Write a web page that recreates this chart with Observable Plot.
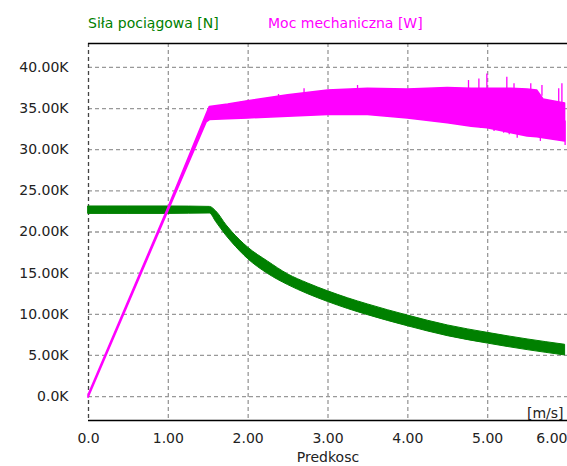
<!DOCTYPE html>
<html><head><meta charset="utf-8">
<script src="https://cdn.jsdelivr.net/npm/d3@7"></script>
<script src="https://cdn.jsdelivr.net/npm/@observablehq/plot@0.6"></script>
<style>
html,body{margin:0;padding:0;background:#fff;overflow:hidden;}
#wrap{width:567px;height:466px;position:relative;font-family:"DejaVu Sans",sans-serif;}
#legend{position:relative;height:36px;font-size:14px;}
#legend span{position:absolute;top:15px;white-space:nowrap;line-height:16px;}
</style></head><body>
<div id="wrap">
<div id="legend"><span id="l1"></span><span id="l2"></span></div>
<div id="chart"></div>
</div>
<script>
// Series names
const seriesNames = ["Siła pociągowa [N]", "Moc mechaniczna [W]"];
const seriesColors = ["#008000", "#ff00ff"];

// Traction force band (N) vs speed (m/s)
const forceSpeed = [0, 0.5, 1.0, 1.52, 1.6, 1.73, 1.8, 2.0, 2.25, 2.5, 2.75, 3.0, 3.25, 3.5, 3.75, 4.0, 4.5, 5.0, 5.5, 5.97];
const forceLow  = [22200, 22200, 22200, 22250, 21200, 19500, 18700, 16700, 14900, 13550, 12450, 11500, 10650, 9900, 9200, 8550, 7350, 6450, 5650, 5000];
const forceHigh = [23100, 23100, 23100, 23050, 22500, 20800, 20000, 18100, 16400, 14850, 13750, 12800, 11950, 11200, 10500, 9850, 8650, 7750, 6950, 6300];

// Mechanical power band (W) vs speed (m/s)
const powerSpeed = [0, 1.0, 1.48, 1.52, 1.75, 2.0, 2.5, 3.0, 3.5, 4.0, 4.5, 4.8, 5.0, 5.3, 5.5, 5.62, 5.7, 5.97];
const powerLow  = [-150, 22500, 33300, 33600, 33700, 33800, 34000, 34200, 34200, 33800, 33200, 32800, 32600, 32000, 31600, 31500, 31400, 31000];
const powerHigh = [150, 22900, 34300, 35200, 35500, 35900, 36600, 37200, 37400, 37300, 37500, 37400, 37400, 37400, 37300, 37200, 36100, 35600];

// Visible spikes of the power signal
const spikeSpeed = [2.38, 2.70, 3.37, 4.76, 4.89, 4.99, 5.24, 5.33, 5.54, 5.68, 5.89, 5.93, 4.91, 5.08, 5.20, 5.27, 5.37, 5.66, 5.97];
const spikeLow   = [36000, 36500, 36800, 36800, 36800, 36800, 36800, 36800, 36800, 36500, 35500, 35500, 32600, 32200, 32000, 31800, 31400, 31000, 30500];
const spikeHigh  = [36700, 37400, 37800, 38400, 38600, 39200, 38800, 38000, 38000, 37800, 37400, 38000, 34000, 34000, 34000, 34000, 34000, 34000, 33500];

// Axes
const xTicks = [0, 1, 2, 3, 4, 5, 6];
const yTicks = [0, 5000, 10000, 15000, 20000, 25000, 30000, 35000, 40000];
const xDomain = [0, 6];
const yDomain = [-2900, 42900];
const xTitle = "Predkosc";
const xUnit = "[m/s]";

document.getElementById("l1").textContent = seriesNames[0];
document.getElementById("l1").style.cssText = "left:88px;color:" + seriesColors[0];
document.getElementById("l2").textContent = seriesNames[1];
document.getElementById("l2").style.cssText = "left:268px;color:" + seriesColors[1];

const force = forceSpeed.map((v, i) => ({v, lo: forceLow[i], hi: forceHigh[i]}));
const power = powerSpeed.map((v, i) => ({v, lo: powerLow[i], hi: powerHigh[i]}));
const spikes = spikeSpeed.map((v, i) => ({v, lo: spikeLow[i], hi: spikeHigh[i]}));

const grid = {stroke: "#999", strokeOpacity: 1, strokeWidth: 1.3, strokeDasharray: "4,3"};
const xfmt = d => d === 0 ? "0.0" : d.toFixed(2);
const yfmt = d => d === 0 ? "0.0K" : (d / 1000).toFixed(2) + "K";

const chart = Plot.plot({
  width: 567, height: 430,
  marginLeft: 88, marginRight: 0, marginTop: 7, marginBottom: 46,
  style: {fontFamily: "DejaVu Sans", fontSize: "14px", color: "#222", background: "white", overflow: "visible"},
  x: {domain: xDomain, label: null},
  y: {domain: yDomain, label: null},
  marks: [
    Plot.gridY(yTicks, grid),
    Plot.gridX(xTicks.slice(1, 6), grid),
    Plot.ruleX(xTicks.slice(0, 1), {stroke: "#444", strokeWidth: 1.3, strokeDasharray: "4,3"}),
    Plot.ruleY([yDomain[1]], {stroke: "#000", strokeWidth: 1.5}),
    Plot.ruleY([yDomain[0]], {stroke: "#000", strokeWidth: 1.5}),
    Plot.areaY(force, {x: "v", y1: "lo", y2: "hi", curve: "monotone-x", fill: seriesColors[0], stroke: seriesColors[0], strokeWidth: 1}),
    Plot.areaY(power, {x: "v", y1: "lo", y2: "hi", curve: "linear", fill: seriesColors[1], stroke: seriesColors[1], strokeWidth: 1.5}),
    Plot.ruleX(spikes, {x: "v", y1: "lo", y2: "hi", stroke: seriesColors[1], strokeWidth: 1.3}),
    Plot.axisY(yTicks, {tickSize: 0, tickPadding: 20, tickFormat: yfmt, label: null, fill: "#222"}),
    Plot.axisX(xTicks.slice(0, 6), {tickSize: 0, tickPadding: 13, tickFormat: xfmt, label: null, fill: "#222"}),
    Plot.text(xTicks.slice(6), {x: d => d, frameAnchor: "bottom", textAnchor: "end", lineAnchor: "top", dy: 13, text: xfmt, fill: "#222"}),
    Plot.text([xTitle], {frameAnchor: "bottom", lineAnchor: "top", dy: 32, fill: "#222"}),
    Plot.text([xUnit], {frameAnchor: "bottom-right", textAnchor: "end", lineAnchor: "bottom", dx: -4, dy: -3, fill: "#222"})
  ]
});
document.getElementById("chart").appendChild(chart);
</script>
</body></html>
